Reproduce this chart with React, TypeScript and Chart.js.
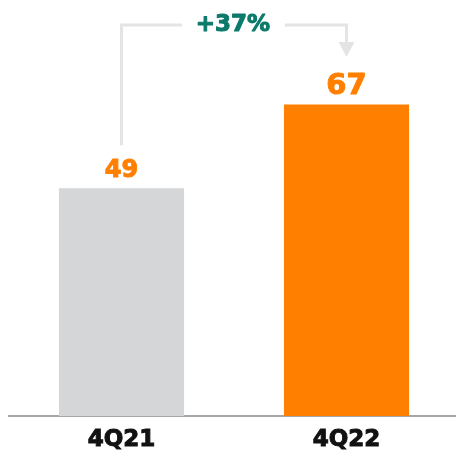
import React, { useEffect, useRef } from "react";
import { Chart, registerables } from "chart.js";

Chart.register(...registerables);

const categories = ["4Q21", "4Q22"];
const values = [49, 67];
const barColors = ["#d5d6d8", "#ff8000"];
const changeLabel = "+37%";

const FONT = "'DejaVu Sans', sans-serif";

function heavyText(ctx: any, text: string, x: number, y: number, color: string) {
  ctx.fillStyle = color;
  ctx.strokeStyle = color;
  ctx.lineWidth = 1;
  ctx.lineJoin = "round";
  ctx.fillText(text, x, y);
  ctx.strokeText(text, x, y);
}

const annotationPlugin = {
  id: "annot",
  afterDatasetsDraw(chart: any) {
    const ctx = chart.ctx;
    const meta = chart.getDatasetMeta(0);
    const b0 = meta.data[0];
    const b1 = meta.data[1];
    ctx.save();
    ctx.textAlign = "center";
    ctx.textBaseline = "alphabetic";
    ctx.font = `bold 24px ${FONT}`;
    heavyText(ctx, String(values[0]), b0.x, b0.y - 11, "#ff8000");
    ctx.font = `bold 29px ${FONT}`;
    heavyText(ctx, String(values[1]), b1.x, b1.y - 11, "#ff8000");

    // arrow
    const yTop = 25;
    const textX = (b0.x + b1.x) / 2 - 1;
    ctx.strokeStyle = "#e4e4e4";
    ctx.lineWidth = 3;
    ctx.lineJoin = "miter";
    ctx.beginPath();
    ctx.moveTo(b0.x, b0.y - 43);
    ctx.lineTo(b0.x, yTop);
    ctx.lineTo(textX - 51, yTop);
    ctx.stroke();
    ctx.beginPath();
    ctx.moveTo(textX + 52, yTop);
    ctx.lineTo(b1.x, yTop);
    ctx.lineTo(b1.x, 43);
    ctx.stroke();
    ctx.fillStyle = "#e4e4e4";
    ctx.beginPath();
    ctx.moveTo(b1.x - 8, 42);
    ctx.lineTo(b1.x + 8, 42);
    ctx.lineTo(b1.x, 57);
    ctx.closePath();
    ctx.fill();

    ctx.font = `bold 23px ${FONT}`;
    ctx.textBaseline = "middle";
    heavyText(ctx, changeLabel, textX, yTop, "#0b7a6b");
    ctx.restore();
  },
};

export default function App() {
  const ref = useRef<HTMLCanvasElement>(null);
  useEffect(() => {
    if (!ref.current) return;
    const chart = new Chart(ref.current, {
      type: "bar",
      data: {
        labels: categories,
        datasets: [
          {
            data: values,
            backgroundColor: barColors,
            barPercentage: 1,
            categoryPercentage: 0.556,
          },
        ],
      },
      options: {
        animation: false,
        responsive: false,
        devicePixelRatio: 1,
        layout: { padding: { left: 9, top: 0, right: 0, bottom: 0 } },
        plugins: { legend: { display: false }, tooltip: { enabled: false } },
        scales: {
          x: {
            grid: { display: false, drawTicks: false },
            border: { display: true, color: "#a6a6a6", width: 2 },
            ticks: {
              color: "#111111",
              font: { family: FONT, size: 23, weight: "bold" },
              padding: 10,
              textStrokeColor: "#111111",
              textStrokeWidth: 1,
            },
            afterFit(scale: any) {
              scale.height = 35;
            },
          },
          y: { display: false, min: 0, max: 89.5 },
        },
      },
      plugins: [annotationPlugin],
    });
    return () => chart.destroy();
  }, []);
  return (
    <div style={{ position: "fixed", left: 0, top: 0, width: 456, height: 451, overflow: "hidden", background: "#fff" }}>
      <canvas ref={ref} width={459} height={451} style={{ width: 459, height: 451, display: "block" }} />
    </div>
  );
}
